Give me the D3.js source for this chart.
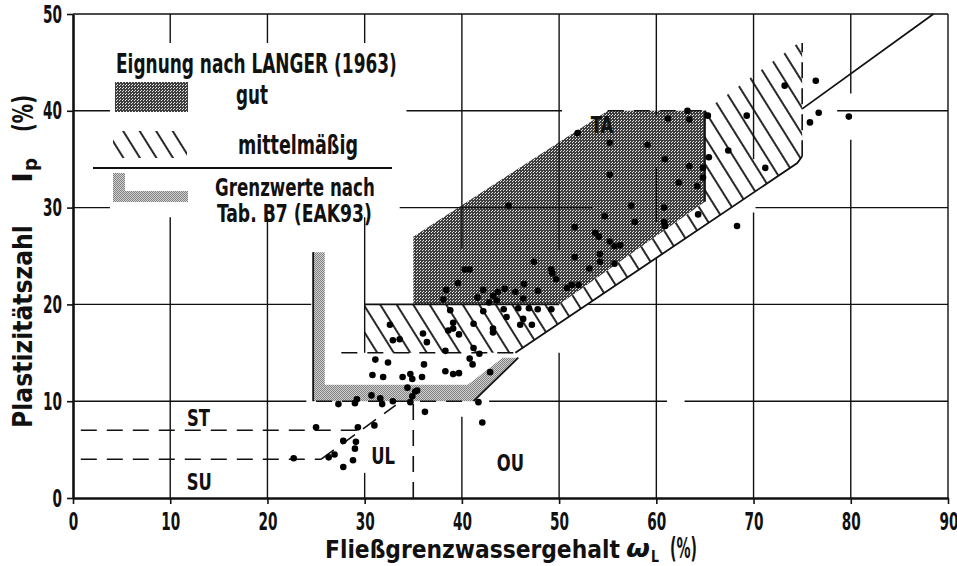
<!DOCTYPE html>
<html>
<head>
<meta charset="utf-8">
<script src="https://cdnjs.cloudflare.com/ajax/libs/d3/7.8.5/d3.min.js"></script>
<style>
  html, body { margin: 0; padding: 0; background: #fff; }
  svg { display: block; }
  text {
    font-family: "Liberation Sans Narrow", "DejaVu Sans Condensed", "Liberation Sans", sans-serif;
    font-weight: bold;
    fill: #111;
  }
</style>
</head>
<body>
<svg id="chart" width="957" height="566"></svg>
<script>
// ---- axis ticks ----
const xTicks = [0, 10, 20, 30, 40, 50, 60, 70, 80, 90];
const yTicks = [0, 10, 20, 30, 40, 50];

// ---- suitability zones (wL %, Ip %) ----
const zoneGut = [[35, 20], [35, 27], [55, 40], [65, 40], [65, 30.6], [50, 20]];
const zoneMittel = [[30, 20], [30, 15], [45.5, 15], [74.5, 34.6], [75, 35.3], [75, 47.3],
                    [65, 40], [65, 30.6], [50, 20]];
const zoneGrenz = [[24.7, 25.4], [25.9, 25.4], [25.9, 11.7], [40.6, 11.7], [44.2, 14.5],
                   [45.8, 14.5], [41.2, 10], [24.7, 10]];

// ---- boundary lines (wL, Ip) ----
const solidLines = [
  [[75, 40.2], [88.5, 50]],                 // A-line, upper part
  [[30, 20], [50, 20]],                     // lower edge of the zones at Ip = 20
  [[45.5, 15], [74.5, 34.6], [75, 35.3]],   // lower edge of "mittelmäßig"
  [[65, 40], [65, 30.6]],                   // right edge of "gut"
  [[24.7, 10], [24.7, 25.4]],               // left edge of the limit bar
  [[41.2, 10], [45.8, 14.5]]                // slanted end of the limit bar
];
const dashedLines = [
  [[0.8, 7], [29.6, 7]],                    // ST / SU
  [[0.8, 4], [25.5, 4]],
  [[25.5, 4], [33.2, 9.6]],                 // A-line, lower part
  [[35, 0], [35, 10]],
  [[27.6, 15], [45.5, 15]],
  [[75, 35.3], [75, 47]],
  [[55, 40], [65, 40]],
  [[25, 10], [41, 10]]
];

// ---- grid segments: [position, from, to] ----
const gridV = [
  [10, 0, 29], [10, 47, 50], [20, 0, 29], [20, 47, 50], [30, 15, 29], [30, 0, 2.6], [30, 47, 50],
  [40, 25.8, 50], [40, 0, 8.4], [50, 25.6, 50], [50, 0, 15],
  [60, 39.5, 50], [60, 28.5, 34.2], [60, 0, 24.8],
  [70, 35, 50], [70, 0, 29.5], [80, 41.8, 50], [80, 0, 37], [90, 0, 50]
];
const gridH = [
  [10, 0, 24], [10, 42.8, 61.1], [10, 62.9, 90],
  [20, 0, 24.5], [20, 53, 90],
  [30, 0, 3.8], [30, 33.6, 53.4], [30, 70.2, 90],
  [40, 0, 3.8], [40, 34.3, 50.3], [40, 78.6, 90],
  [50, 0, 90]
];

// ---- zone labels ----
const zoneLabels = [
  { t: "ST", x: 12.9, y: 8.3 }, { t: "SU", x: 13.0, y: 1.7 },
  { t: "UL", x: 31.9, y: 4.4 }, { t: "OU", x: 45.0, y: 3.6 },
  { t: "TA", x: 54.4, y: 38.6 }
];

// ---- samples: liquid limit wL (%), plasticity index Ip (%) ----
const wL = [
  22.7, 25.0, 26.3, 26.9, 27.8, 27.8, 28.8, 29.0, 29.1, 29.3, 31.0,
  27.3, 29.0, 29.2, 30.7, 31.6, 31.8, 32.9, 34.7, 34.9, 35.2, 35.4, 34.4, 36.2, 41.7, 42.1,
  31.1, 32.4, 36.1, 30.8, 31.9, 33.9, 34.7, 34.9, 35.9, 38.3, 39.1, 39.7, 42.9, 41.1, 40.8,
  32.6, 32.9, 33.6, 36.0, 36.4, 38.6, 39.1, 39.1, 39.7, 38.3, 41.2, 41.2, 41.8, 43.2, 43.2,
  44.6, 46.3, 46.0, 47.2, 38.8, 42.2, 44.3, 45.8, 46.9, 47.8, 49.2,
  40.3, 40.8, 39.6, 38.4, 38.1, 42.2, 41.6, 42.8, 43.2, 43.7, 44.4, 43.6, 45.5, 46.4, 46.3,
  47.4, 47.8, 49.2, 49.3, 49.7, 50.8, 51.3, 52.0, 51.6, 53.1, 51.6, 53.7, 54.1, 54.2, 54.2,
  55.2, 55.7, 56.3, 55.7, 44.8,
  51.9, 55.2, 59.1, 61.2, 63.2, 63.4, 60.9, 63.4, 64.8, 64.8, 55.2, 62.3, 64.2, 57.4, 60.8,
  54.7, 57.8, 60.8, 60.9, 64.3,
  65.3, 69.3, 73.2, 76.4, 76.7, 75.8, 79.8, 65.4, 67.4, 71.2, 68.3
];
const Ip = [
  4.1, 7.3, 4.2, 4.5, 5.9, 3.2, 3.9, 5.1, 5.8, 7.3, 7.5,
  9.7, 9.8, 10.2, 10.6, 10.3, 9.7, 10.0, 9.9, 10.5, 11.0, 11.1, 11.4, 8.9, 9.9, 7.8,
  14.3, 14.0, 13.8, 12.7, 12.5, 12.5, 12.8, 12.3, 12.5, 13.1, 12.8, 12.9, 13.0, 13.8, 14.4,
  17.9, 16.3, 16.4, 17.0, 16.1, 17.3, 17.5, 18.1, 16.9, 15.2, 18.0, 15.5, 14.9, 17.5, 17.1,
  18.7, 18.5, 17.9, 17.9, 19.4, 19.3, 19.5, 19.6, 19.6, 19.5, 19.5,
  23.6, 23.6, 22.2, 21.5, 20.5, 21.5, 20.7, 20.2, 20.9, 21.3, 21.6, 20.4, 21.3, 22.1, 20.6,
  24.4, 21.4, 23.6, 23.2, 22.6, 21.7, 22.0, 22.0, 24.9, 23.7, 28.0, 27.4, 27.0, 25.2, 24.4,
  26.5, 26.0, 26.1, 24.2, 30.2,
  37.7, 36.7, 36.5, 39.2, 40.0, 39.1, 35.0, 34.3, 34.1, 33.1, 33.4, 32.6, 32.2, 30.2, 30.0,
  29.1, 28.5, 28.5, 28.1, 29.3,
  39.5, 39.5, 42.6, 43.1, 39.8, 38.8, 39.4, 35.2, 35.9, 34.1, 28.1
];

// ---------------------------------------------------------------
const svg = d3.select("#chart");
const x = d3.scaleLinear().domain([0, 90]).range([73, 948]);
const y = d3.scaleLinear().domain([0, 50]).range([498, 14]);
const line = d3.line().x(d => x(d[0])).y(d => y(d[1]));

// squeeze a text horizontally to a given width, keeping its anchor point
function fit(sel, w) {
  sel.each(function () {
    const t = d3.select(this);
    const k = w / this.getComputedTextLength();
    const x0 = +(t.attr("x") || 0);
    t.attr("x", x0 / k).attr("transform", `scale(${k},1)`);
  });
}
// same, with one common factor for a set of labels
function fitCommon(sel, sample, w) {
  const probe = svg.append("text").attr("font-size", sel.attr("font-size")).text(sample);
  const k = w / probe.node().getComputedTextLength();
  probe.remove();
  sel.each(function () {
    const t = d3.select(this);
    const x0 = +(t.attr("x") || 0);
    t.attr("x", x0 / k).attr("transform", `scale(${k},1)`);
  });
}

// ---- fill patterns ----
const defs = svg.append("defs");
const pg = defs.append("pattern").attr("id", "gutTex").attr("width", 3).attr("height", 3)
  .attr("patternUnits", "userSpaceOnUse");
pg.append("rect").attr("width", 3).attr("height", 3).attr("fill", "#3e3e3e");
[[0, 0], [2, 1]].forEach(p => pg.append("rect").attr("x", p[0]).attr("y", p[1])
  .attr("width", 1).attr("height", 1).attr("fill", "#e6e6e6"));

const pr = defs.append("pattern").attr("id", "grenzTex").attr("width", 2).attr("height", 2)
  .attr("patternUnits", "userSpaceOnUse");
pr.append("rect").attr("width", 2).attr("height", 2).attr("fill", "#d2d2d2");
[[0, 0], [1, 1]].forEach(p => pr.append("rect").attr("x", p[0]).attr("y", p[1])
  .attr("width", 1).attr("height", 1).attr("fill", "#808080"));

const ph = defs.append("pattern").attr("id", "hatch").attr("width", 14).attr("height", 14)
  .attr("patternUnits", "userSpaceOnUse").attr("patternTransform", "rotate(-32)");
ph.append("line").attr("x1", 7).attr("y1", 0).attr("x2", 7).attr("y2", 14)
  .attr("stroke", "#111").attr("stroke-width", 1.8);

// ---- zones ----
svg.append("path").attr("d", line(zoneMittel) + "Z").attr("fill", "url(#hatch)");
svg.append("path").attr("d", line(zoneGut) + "Z").attr("fill", "url(#gutTex)");
svg.append("path").attr("d", line(zoneGrenz) + "Z").attr("fill", "url(#grenzTex)");

// ---- grid ----
const grid = svg.append("g").attr("stroke", "#111").attr("stroke-width", 1.4);
grid.selectAll("line.v").data(gridV).join("line").attr("class", "v")
  .attr("x1", d => x(d[0])).attr("x2", d => x(d[0]))
  .attr("y1", d => y(d[1])).attr("y2", d => y(d[2]));
grid.selectAll("line.h").data(gridH).join("line").attr("class", "h")
  .attr("y1", d => y(d[0])).attr("y2", d => y(d[0]))
  .attr("x1", d => x(d[1])).attr("x2", d => x(d[2]));

// ---- boundary lines ----
svg.append("g").selectAll("path").data(solidLines).join("path")
  .attr("d", line).attr("fill", "none").attr("stroke", "#111").attr("stroke-width", 1.8);
svg.append("g").selectAll("path").data(dashedLines).join("path")
  .attr("d", line).attr("fill", "none").attr("stroke", "#111").attr("stroke-width", 1.6)
  .attr("stroke-dasharray", "16,10");

// ---- axes ----
const xAxis = svg.append("g").attr("transform", `translate(0,${y(0)})`)
  .call(d3.axisBottom(x).tickValues(xTicks).tickSize(6).tickSizeOuter(0).tickPadding(8));
const yAxis = svg.append("g").attr("transform", `translate(${x(0)},0)`)
  .call(d3.axisLeft(y).tickValues(yTicks).tickSize(6).tickSizeOuter(0).tickPadding(5));
[xAxis, yAxis].forEach(a => {
  a.attr("font-family", null);
  a.select(".domain").attr("stroke", "#111").attr("stroke-width", 2.6);
  a.selectAll(".tick line").attr("stroke", "#111").attr("stroke-width", 1.6);
  a.selectAll(".tick text").attr("font-size", 25).attr("fill", "#111");
});
// last label sits against the right edge
xAxis.selectAll(".tick text").filter(d => d === 90).attr("text-anchor", "end").attr("x", 10);
fitCommon(xAxis.selectAll(".tick text"), "50", 19);
fitCommon(yAxis.selectAll(".tick text"), "50", 19);

// ---- samples ----
svg.append("g").selectAll("circle").data(d3.range(wL.length)).join("circle")
  .attr("cx", i => x(wL[i])).attr("cy", i => y(Ip[i])).attr("r", 3.3).attr("fill", "#000");

// ---- zone labels ----
const zl = svg.append("g").selectAll("text").data(zoneLabels).join("text")
  .attr("x", d => x(d.x)).attr("y", d => y(d.y)).attr("text-anchor", "middle")
  .attr("dy", "0.36em").attr("font-size", 23).text(d => d.t);
fitCommon(zl, "ST", 23);

// ---- legend ----
const lg = svg.append("g");
lg.append("text").attr("x", 116).attr("y", 73).attr("font-size", 26)
  .text("Eignung  nach LANGER (1963)").call(fit, 281);
lg.append("rect").attr("x", 115).attr("y", 82).attr("width", 73).attr("height", 30)
  .attr("fill", "url(#gutTex)");
lg.append("text").attr("x", 236).attr("y", 104).attr("font-size", 26).text("gut").call(fit, 32);
lg.append("rect").attr("x", 113).attr("y", 131).attr("width", 74).attr("height", 27)
  .attr("fill", "url(#hatch)");
lg.append("text").attr("x", 238).attr("y", 154).attr("font-size", 26).text("mittelmäßig")
  .call(fit, 120);
lg.append("line").attr("x1", 93).attr("x2", 392).attr("y1", 168).attr("y2", 168)
  .attr("stroke", "#111").attr("stroke-width", 2);
lg.append("path").attr("d", "M113,173h12v18h63v11h-75z").attr("fill", "url(#grenzTex)");
lg.append("text").attr("x", 215).attr("y", 196).attr("font-size", 24).text("Grenzwerte nach")
  .call(fit, 160);
lg.append("text").attr("x", 217).attr("y", 222).attr("font-size", 24).text("Tab. B7 (EAK93)")
  .call(fit, 155);

// ---- axis titles ----
const xt = svg.append("g").attr("font-size", 25);
xt.append("text").attr("x", 325).attr("y", 558).text("Fließgrenzwassergehalt").call(fit, 295);
xt.append("text").attr("x", 626).attr("y", 557).attr("font-family", "DejaVu Serif")
  .attr("font-style", "italic").text("ω").call(fit, 24);
xt.append("text").attr("x", 651).attr("y", 562).attr("font-size", 16).text("L").call(fit, 8);
xt.append("text").attr("x", 670).attr("y", 558).attr("font-size", 28).text("(%)").call(fit, 27);

const yt = svg.append("g").attr("font-size", 26);
yt.append("g").attr("transform", "translate(32,428) rotate(-90)")
  .append("text").text("Plastizitätszahl").call(fit, 203);
yt.append("g").attr("transform", "translate(32,183) rotate(-90)")
  .append("text").attr("font-family", "DejaVu Serif").text("I").call(fit, 11);
yt.append("g").attr("transform", "translate(37,171) rotate(-90)")
  .append("text").attr("font-family", "DejaVu Serif").attr("font-size", 19).text("p").call(fit, 13);
yt.append("g").attr("transform", "translate(33,132) rotate(-90)")
  .append("text").attr("font-size", 29).text("(%)").call(fit, 37);
</script>
</body>
</html>
